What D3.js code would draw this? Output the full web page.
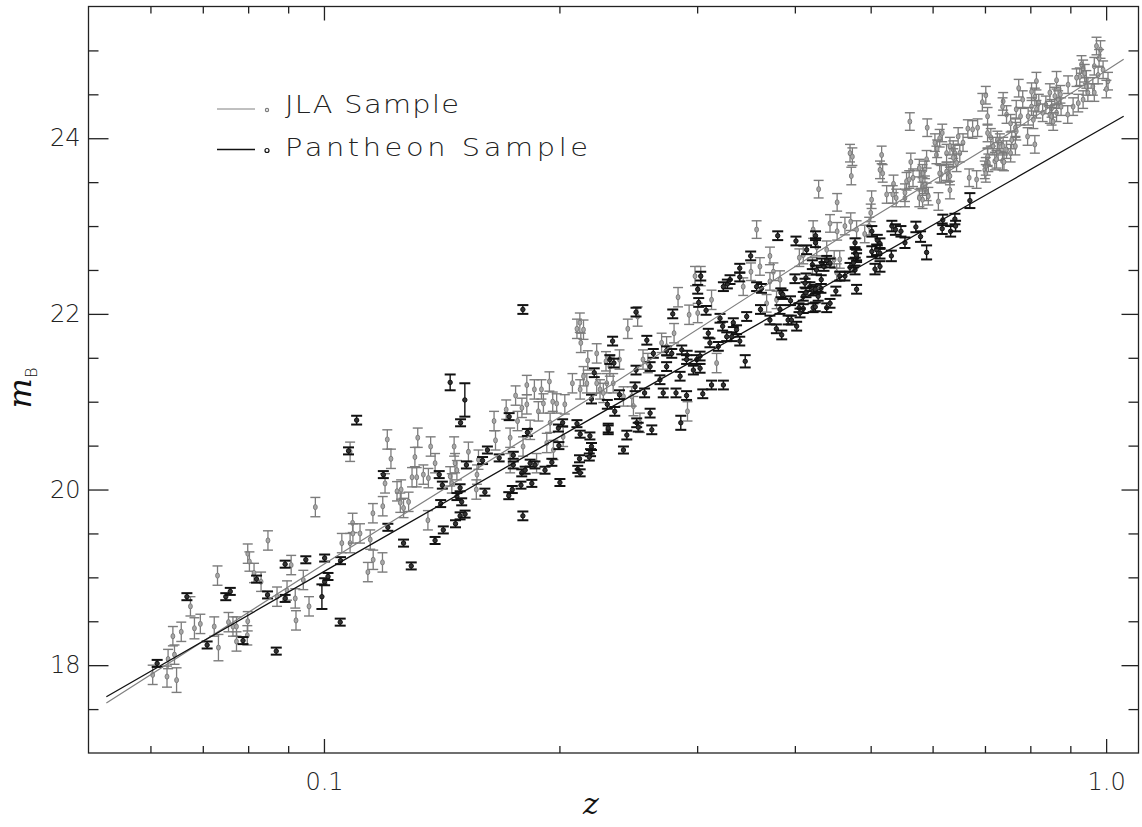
<!DOCTYPE html>
<html><head><meta charset="utf-8">
<script src="https://cdn.jsdelivr.net/npm/d3@7/dist/d3.min.js"></script>
<style>
html,body{margin:0;padding:0;background:#fff;}
svg{display:block;}
.tick text{font-family:"DejaVu Sans",sans-serif;font-weight:200;font-size:24px;fill:#222;}
</style></head>
<body><svg id="c" width="1142" height="827"></svg>
<script>
// ---- data: [z, m_B, error] ----
const jlaPoints = [
[0.0604,17.89,0.11],[0.0630,17.87,0.12],[0.0632,18.07,0.11],[0.0644,18.12,0.11],[0.0648,17.83,0.14],
[0.0641,18.33,0.11],[0.0657,18.38,0.11],[0.0675,18.67,0.11],[0.0683,18.42,0.12],[0.0695,18.47,0.11],
[0.0724,18.44,0.11],[0.0733,18.20,0.15],[0.0731,19.02,0.11],[0.0755,18.49,0.11],[0.0765,18.44,0.11],
[0.0773,18.44,0.11],[0.0773,18.27,0.11],[0.0799,19.27,0.11],[0.0803,19.18,0.11],[0.0799,18.50,0.11],
[0.0798,18.34,0.11],[0.0814,19.05,0.11],[0.0831,18.95,0.11],[0.0848,19.42,0.11],[0.0871,18.78,0.11],
[0.0897,18.85,0.11],[0.0908,19.14,0.11],[0.0919,18.76,0.11],[0.0921,18.51,0.11],[0.0941,18.97,0.11],
[0.0957,18.67,0.11],[0.0975,19.80,0.11],[0.1054,19.39,0.11],[0.1080,19.39,0.11],[0.1088,19.62,0.11],
[0.1089,19.50,0.11],[0.1112,19.50,0.11],[0.1080,20.43,0.11],[0.1155,19.73,0.11],[0.1146,19.43,0.11],
[0.1189,19.81,0.11],[0.1197,20.07,0.11],[0.1205,20.57,0.11],[0.1218,20.35,0.11],[0.1240,19.98,0.11],
[0.1255,20.00,0.11],[0.1252,19.85,0.11],[0.1264,19.79,0.11],[0.1283,19.86,0.11],[0.1296,20.14,0.11],
[0.1314,20.14,0.11],[0.1307,20.37,0.11],[0.1318,20.59,0.11],[0.1340,20.17,0.11],[0.1360,20.13,0.11],
[0.1369,20.49,0.11],[0.1387,20.30,0.11],[0.1358,19.65,0.11],[0.1467,20.49,0.11],[0.1471,20.30,0.11],
[0.1479,20.22,0.11],[0.1450,20.15,0.11],[0.1457,20.07,0.11],[0.1530,20.43,0.11],[0.1569,20.17,0.11],
[0.1566,20.00,0.11],[0.1576,20.34,0.11],[0.1650,20.78,0.11],[0.1657,20.56,0.11],[0.1710,20.91,0.11],
[0.1730,20.59,0.11],[0.1758,21.07,0.11],[0.1768,20.78,0.11],[0.1791,20.93,0.11],[0.1817,20.97,0.11],
[0.1817,21.19,0.11],[0.1797,20.49,0.11],[0.1835,20.68,0.11],[0.1858,21.14,0.11],[0.1897,21.14,0.11],
[0.1880,20.89,0.11],[0.1908,20.98,0.11],[0.1942,21.23,0.11],[0.1961,21.00,0.11],[0.1984,20.98,0.11],
[0.1946,20.76,0.11],[0.2032,20.97,0.11],[0.2078,21.21,0.11],[0.2106,21.83,0.11],[0.2124,21.90,0.11],
[0.2147,21.82,0.11],[0.2130,21.67,0.11],[0.2174,21.47,0.11],[0.2232,21.55,0.11],[0.2147,21.29,0.11],
[0.2168,21.21,0.11],[0.2126,21.14,0.11],[0.2232,21.21,0.11],[0.2254,21.14,0.11],[0.2294,21.46,0.11],
[0.2299,21.21,0.11],[0.2022,20.60,0.11],[0.1927,20.53,0.11],[0.1965,20.45,0.11],[0.1870,20.30,0.11],
[0.1730,20.30,0.11],[0.1156,19.20,0.11],[0.1188,19.17,0.11],[0.1138,19.06,0.11],
[0.4705,23.83,0.10],[0.4738,23.79,0.10],[0.4723,23.57,0.10],[0.4290,23.42,0.10],[0.4530,23.27,0.10],
[0.4436,23.03,0.10],[0.4635,23.00,0.10],[0.4715,23.05,0.10],[0.4530,22.94,0.10],[0.4221,22.96,0.10],
[0.3574,22.96,0.10],[0.4053,22.64,0.10],[0.4100,22.67,0.10],[0.4266,22.76,0.10],[0.4213,22.54,0.10],
[0.3717,22.66,0.10],[0.3609,22.54,0.10],[0.3755,22.48,0.10],[0.3515,22.48,0.10],[0.3717,22.37,0.10],
[0.3829,22.39,0.10],[0.2981,22.43,0.11],[0.3032,22.43,0.11],[0.2836,22.19,0.11],[0.3130,22.16,0.11],
[0.2930,21.99,0.11],[0.3005,22.01,0.11],[0.2518,21.97,0.11],[0.2446,21.83,0.11],[0.2803,21.78,0.11],
[0.2702,21.67,0.11],[0.2742,21.63,0.11],[0.2387,21.48,0.11],[0.2558,21.48,0.11],[0.2595,21.44,0.11],
[0.2343,21.21,0.11],[0.2276,21.10,0.11],[0.3177,21.44,0.11],[0.2916,20.89,0.11],[0.2487,20.95,0.11],
[0.3681,22.12,0.10],[0.3790,22.16,0.10],[0.3436,22.31,0.10],[0.4491,22.62,0.10],[0.4565,22.62,0.10],
[0.4797,22.96,0.10],[0.4524,22.47,0.10],[0.2320,21.40,0.11],[0.2415,21.06,0.11],[0.2535,20.76,0.11],
[0.2475,21.06,0.11],
[0.5164,23.81,0.10],[0.5139,23.64,0.10],[0.5180,23.60,0.10],[0.5627,23.73,0.10],[0.5895,23.76,0.10],
[0.6068,23.81,0.10],[0.6252,23.83,0.10],[0.6407,23.83,0.10],[0.5866,23.64,0.10],[0.5557,23.51,0.10],
[0.5664,23.55,0.10],[0.5348,23.48,0.10],[0.5825,23.45,0.10],[0.5895,23.39,0.10],[0.5925,23.34,0.10],
[0.5825,23.30,0.10],[0.6155,23.59,0.10],[0.6283,23.60,0.10],[0.6314,23.41,0.10],[0.6103,23.28,0.10],
[0.5770,23.32,0.10],[0.5531,23.32,0.10],[0.5336,23.36,0.10],[0.5390,23.32,0.10],[0.5241,23.36,0.10],
[0.5014,23.30,0.10],[0.5001,23.15,0.10],[0.4978,23.00,0.10],[0.4913,22.91,0.10],[0.4393,22.73,0.10],
[0.6682,23.55,0.10],[0.6830,23.53,0.10],[0.6996,23.64,0.10],[0.7070,23.72,0.10],[0.7054,23.78,0.10],
[0.7206,23.74,0.10],[0.7372,23.74,0.10],
[0.9721,25.05,0.10],[0.9836,25.01,0.10],[0.9795,24.91,0.10],[0.9658,24.82,0.10],[0.9911,24.78,0.10],
[0.9767,24.72,0.10],[1.0056,24.65,0.10],[1.0008,24.56,0.10],[0.9301,24.84,0.10],[0.9345,24.79,0.10],
[0.9389,24.74,0.10],[0.9254,24.70,0.10],[0.9166,24.69,0.10],[0.9434,24.67,0.10],[0.9616,24.59,0.10],
[0.9658,24.52,0.10],[0.9434,24.59,0.10],[0.9477,24.52,0.10],[0.9345,24.44,0.10],[0.9213,24.40,0.10],
[0.9074,24.36,0.10],[0.8941,24.61,0.10],[0.8642,24.66,0.10],[0.8145,24.65,0.10],[0.7731,24.57,0.10],
[0.8029,24.53,0.10],[0.8107,24.47,0.10],[0.7823,24.44,0.10],[0.8474,24.52,0.10],[0.8599,24.48,0.10],
[0.8682,24.44,0.10],[0.8742,24.50,0.10],[0.8202,24.40,0.10],[0.8374,24.38,0.10],[0.8517,24.34,0.10],
[0.8029,24.36,0.10],[0.8145,24.33,0.10],[0.8296,24.29,0.10],[0.8474,24.27,0.10],[0.8642,24.29,0.10],
[0.8758,24.36,0.10],[0.8931,24.27,0.10],[0.7949,24.25,0.10],[0.8072,24.21,0.10],[0.7675,24.33,0.10],
[0.7773,24.25,0.10],[0.7459,24.27,0.10],[0.7549,24.17,0.10],[0.7656,24.12,0.10],[0.7675,24.08,0.10],
[0.8107,23.93,0.10],[0.7936,24.02,0.10],[0.8517,24.25,0.10],[0.8557,24.19,0.10],[0.7017,24.49,0.10],
[0.6946,24.41,0.10],[0.7054,24.25,0.10],[0.7385,24.42,0.10],[0.7372,24.36,0.10],[0.5611,24.19,0.10],
[0.5906,24.12,0.10],[0.6656,24.11,0.10],[0.6750,24.10,0.10],[0.6850,24.12,0.10],[0.7054,24.06,0.10],
[0.7122,24.01,0.10],[0.7260,23.98,0.10],[0.7314,23.95,0.10],[0.7385,23.91,0.10],[0.7459,23.87,0.10],
[0.7549,23.83,0.10],[0.7168,23.91,0.10],[0.7276,23.85,0.10],[0.7574,23.98,0.10],[0.7656,23.91,0.10],
[0.7054,23.79,0.10],[0.7242,23.76,0.10],[0.7403,23.73,0.10],[0.7017,23.68,0.10],[0.7017,23.60,0.10],
[0.6562,23.95,0.10],[0.6469,24.02,0.10],[0.6314,23.91,0.10],[0.6376,23.87,0.10],[0.6173,24.06,0.10],
[0.6126,24.00,0.10],[0.6041,23.95,0.10],[0.6081,23.88,0.10],[0.6500,23.83,0.10],[0.6376,23.78,0.10],
[0.6439,23.72,0.10],[0.5770,23.66,0.10],[0.5825,23.60,0.10],[0.5800,23.53,0.10],[0.5866,23.47,0.10],
[0.5600,23.53,0.10],[0.5531,23.38,0.10],[0.6126,23.60,0.10],[0.6252,23.62,0.10],[0.6314,23.57,0.10]
];
const pantheonPoints = [
[0.0612,18.02,0.04],[0.0668,18.78,0.04],[0.0709,18.23,0.04],[0.0749,18.78,0.04],[0.0759,18.84,0.04],
[0.0788,18.28,0.04],[0.0820,18.98,0.04],[0.0847,18.80,0.04],[0.0869,18.16,0.04],[0.0892,19.15,0.04],
[0.0892,18.76,0.04],[0.0948,19.20,0.04],[0.1002,19.22,0.04],[0.0994,18.78,0.14],[0.1002,18.95,0.04],
[0.1012,19.01,0.04],[0.1049,18.49,0.04],[0.1050,19.19,0.04],[0.1075,20.44,0.04],[0.1101,20.79,0.05],
[0.1450,21.22,0.09],[0.1514,21.02,0.19],[0.1495,20.76,0.04],[0.1796,22.05,0.05],[0.1191,20.17,0.04],
[0.1207,19.57,0.04],[0.1264,19.39,0.04],[0.1387,19.42,0.04],[0.1421,19.54,0.04],[0.1404,20.17,0.04],
[0.1417,20.05,0.04],[0.1410,19.84,0.04],[0.1493,20.02,0.04],[0.1479,19.92,0.04],[0.1500,19.86,0.04],
[0.1493,19.70,0.04],[0.1515,19.72,0.04],[0.1473,19.61,0.04],[0.1521,20.28,0.04],[0.1595,20.33,0.04],
[0.1618,20.45,0.04],[0.1606,19.97,0.04],[0.1675,20.36,0.04],[0.1725,20.83,0.04],[0.1746,20.39,0.04],
[0.1723,19.93,0.04],[0.1741,20.00,0.04],[0.1796,19.70,0.05],[0.1746,20.28,0.04],[0.1790,20.19,0.04],
[0.1808,20.22,0.04],[0.1786,20.05,0.04],[0.1844,20.07,0.04],[0.1820,20.65,0.04],[0.1835,20.30,0.04],
[0.1861,20.28,0.04],[0.1917,20.22,0.04],[0.1956,20.31,0.04],[0.2003,20.08,0.04],[0.1997,20.50,0.04],
[0.1994,20.70,0.04],[0.2019,20.76,0.04],[0.2106,20.75,0.04],[0.2126,20.63,0.04],[0.2122,20.35,0.04],
[0.2111,20.23,0.04],[0.2126,20.19,0.04],[0.2188,20.61,0.04],[0.2198,20.49,0.04],[0.2192,20.42,0.04],
[0.2184,20.37,0.04],[0.2216,21.33,0.05],[0.2198,21.03,0.05],[0.2303,20.97,0.05],[0.2309,20.68,0.05],
[0.3803,22.89,0.05],[0.4013,22.83,0.05],[0.4251,22.89,0.05],[0.4251,22.81,0.05],[0.3512,22.66,0.05],
[0.3401,22.52,0.05],[0.3401,22.42,0.05],[0.3305,22.39,0.05],[0.3279,22.34,0.05],[0.3241,22.31,0.05],
[0.3032,22.43,0.05],[0.3005,22.28,0.05],[0.3014,22.13,0.05],[0.3080,22.04,0.05],[0.2792,22.00,0.05],
[0.2506,22.02,0.05],[0.2339,21.69,0.05],[0.2587,21.70,0.05],[0.2637,21.55,0.05],[0.2742,21.58,0.05],
[0.2784,21.55,0.05],[0.2867,21.59,0.05],[0.2913,21.53,0.05],[0.2997,21.48,0.05],[0.2967,21.36,0.05],
[0.3026,21.38,0.05],[0.3100,21.78,0.05],[0.3115,21.67,0.05],[0.3209,21.95,0.05],[0.3234,21.86,0.05],
[0.3273,21.74,0.05],[0.3337,21.90,0.05],[0.3369,21.82,0.05],[0.3321,21.74,0.05],[0.3401,21.69,0.05],
[0.3471,21.97,0.05],[0.3574,22.31,0.05],[0.3626,22.29,0.05],[0.3615,22.05,0.05],[0.3717,21.93,0.05],
[0.3788,21.83,0.05],[0.3848,21.76,0.05],[0.3840,22.24,0.05],[0.3860,22.22,0.05],[0.3829,22.05,0.05],
[0.3921,21.93,0.05],[0.3949,22.15,0.05],[0.4049,22.07,0.05],[0.4021,21.86,0.05],[0.4133,22.41,0.05],
[0.4181,22.31,0.05],[0.4001,22.40,0.05],[0.4221,22.26,0.05],[0.4284,22.20,0.05],[0.4319,22.29,0.05],
[0.4328,22.58,0.05],[0.4358,22.54,0.05],[0.4393,22.61,0.05],[0.4436,22.58,0.05],[0.4513,22.26,0.05],
[0.4393,22.07,0.05],[0.4436,22.12,0.05],[0.4221,22.07,0.05],[0.4100,22.20,0.05],[0.4565,22.43,0.05],
[0.4635,22.43,0.05],[0.4778,22.69,0.05],[0.4797,22.64,0.05],[0.4775,22.50,0.05],[0.4705,22.53,0.05],
[0.4751,22.58,0.05],[0.4797,22.28,0.05],[0.3456,21.46,0.07],[0.3130,21.19,0.05],[0.3241,21.19,0.05],
[0.3050,21.09,0.05],[0.2908,21.07,0.05],[0.2859,20.76,0.08],[0.2612,20.87,0.05],[0.2625,20.68,0.05],
[0.2415,20.45,0.04],[0.2309,20.70,0.05],[0.2439,20.62,0.05],[0.2511,20.76,0.05],[0.2522,20.71,0.05],
[0.2354,20.89,0.05],[0.2387,21.08,0.05],[0.2499,21.17,0.05],[0.2570,21.10,0.05],[0.2689,21.25,0.05],
[0.2715,21.10,0.05],[0.2819,21.10,0.05],[0.2742,21.40,0.05],[0.2853,21.29,0.05],[0.2908,21.48,0.05],
[0.3026,21.52,0.05],[0.3193,21.63,0.05],[0.2506,21.36,0.05],[0.2612,21.40,0.05],[0.2320,21.48,0.05],
[0.2348,21.44,0.05],[0.4141,22.73,0.05],[0.4211,22.56,0.05],[0.4263,22.50,0.05],[0.4323,22.39,0.05],
[0.4121,22.35,0.05],[0.4248,22.28,0.05],[0.4133,22.24,0.05],[0.4248,22.08,0.05],[0.4100,22.06,0.05],
[0.4061,22.01,0.05],[0.3959,21.93,0.05],[0.4775,22.81,0.05],
[0.6696,23.29,0.085],[0.6183,23.07,0.06],[0.6407,23.08,0.06],[0.6172,22.97,0.06],[0.6327,22.94,0.06],
[0.6420,23.00,0.06],[0.5712,22.99,0.06],[0.5791,22.88,0.06],[0.5895,22.70,0.08],[0.5531,22.81,0.06],
[0.5314,22.66,0.06],[0.5322,23.00,0.06],[0.5378,22.96,0.06],[0.5466,22.94,0.06],[0.5017,22.94,0.06],
[0.5098,22.84,0.06],[0.5139,22.80,0.06],[0.5089,22.73,0.06],[0.5139,22.69,0.06],[0.5017,22.71,0.06],
[0.5139,22.54,0.06],[0.5064,22.51,0.06],[0.4797,22.67,0.06],[0.1293,19.13,0.04]
];
// fitted curves
const jlaFit = [[0.0527,17.57],[0.1058,19.29],[0.2254,21.11],[0.4705,22.94],[0.7033,23.89],[1.053,24.90]];
const pantheonFit = [[0.0527,17.64],[0.1096,19.27],[0.2321,20.93],[0.4845,22.54],[0.7535,23.51],[1.053,24.25]];
// ticks and labels
const xMajor = [0.1, 1.0];
const xMinor = [0.06,0.07,0.08,0.09,0.2,0.3,0.4,0.5,0.6,0.7,0.8,0.9];
const yMajor = [18, 20, 22, 24];
const yMinor = [17.5,18.5,19,19.5,20.5,21,21.5,22.5,23,23.5,24.5,25];
const legendLabels = ["JLA Sample", "Pantheon Sample"];

const svg = d3.select("#c");
const L = 88.5, R = 1138.5, T = 6.5, B = 753;
const x = d3.scaleLog().domain([0.05, 1.1]).range([L, R]);
const y = d3.scaleLinear().domain([17, 25.5]).range([B, T]);

const GRAY = "#7c7c7c", BLACK = "#111";

// error bars + markers
function drawSeries(data, color, capW, sw, capSw, cls) {
  const g = svg.append("g").attr("class", cls);
  const s = g.selectAll("g").data(data).join("g");
  s.append("line").attr("x1", d => x(d[0])).attr("x2", d => x(d[0]))
    .attr("y1", d => y(d[1] - d[2])).attr("y2", d => y(d[1] + d[2]))
    .attr("stroke", color).attr("stroke-width", sw);
  [-1, 1].forEach(k => {
    s.append("line").attr("x1", d => x(d[0]) - capW / 2).attr("x2", d => x(d[0]) + capW / 2)
      .attr("y1", d => y(d[1] + k * d[2])).attr("y2", d => y(d[1] + k * d[2]))
      .attr("stroke", color).attr("stroke-width", capSw);
  });
  return s;
}
const sj = drawSeries(jlaPoints, GRAY, 10, 1.3, 1.4, "jla");
sj.append("ellipse").attr("cx", d => x(d[0])).attr("cy", d => y(d[1]))
  .attr("rx", 1.9).attr("ry", 2.6).attr("fill", "#a9a9a9").attr("stroke", GRAY).attr("stroke-width", 1);
const sp = drawSeries(pantheonPoints, BLACK, 11, 1.4, 2, "pan");
sp.append("circle").attr("cx", d => x(d[0])).attr("cy", d => y(d[1]))
  .attr("r", 2.2).attr("fill", "#333").attr("stroke", BLACK).attr("stroke-width", 1);

// fit lines
const line = d3.line().x(d => x(d[0])).y(d => y(d[1]));
svg.append("path").datum(jlaFit).attr("d", line).attr("fill", "none").attr("stroke", "#808080").attr("stroke-width", 1.2);
svg.append("path").datum(pantheonFit).attr("d", line).attr("fill", "none").attr("stroke", BLACK).attr("stroke-width", 1.3);

// axes (ticks on all four sides, pointing inward)
const axisColor = "#222";
function styleAxis(g) { g.select(".domain").remove(); g.selectAll(".tick line").attr("stroke", axisColor).attr("stroke-width", 1.3); }
svg.append("g").attr("transform", `translate(0,${B})`)
  .call(d3.axisBottom(x).tickValues(xMajor).tickSizeInner(-14).tickSizeOuter(0).tickPadding(20).tickFormat(d3.format(".1f"))).call(styleAxis);
svg.append("g").attr("transform", `translate(0,${B})`)
  .call(d3.axisBottom(x).tickValues(xMinor).tickSizeInner(-7).tickSizeOuter(0).tickFormat("")).call(styleAxis);
svg.append("g").attr("transform", `translate(0,${T})`)
  .call(d3.axisTop(x).tickValues(xMajor).tickSizeInner(-14).tickSizeOuter(0).tickFormat("")).call(styleAxis);
svg.append("g").attr("transform", `translate(0,${T})`)
  .call(d3.axisTop(x).tickValues(xMinor).tickSizeInner(-7).tickSizeOuter(0).tickFormat("")).call(styleAxis);
svg.append("g").attr("transform", `translate(${L},0)`)
  .call(d3.axisLeft(y).tickValues(yMajor).tickSizeInner(-20).tickSizeOuter(0).tickPadding(8).tickFormat(d3.format("d"))).call(styleAxis);
svg.append("g").attr("transform", `translate(${L},0)`)
  .call(d3.axisLeft(y).tickValues(yMinor).tickSizeInner(-10).tickSizeOuter(0).tickFormat("")).call(styleAxis);
svg.append("g").attr("transform", `translate(${R},0)`)
  .call(d3.axisRight(y).tickValues(yMajor).tickSizeInner(-17).tickSizeOuter(0).tickFormat("")).call(styleAxis);
svg.append("g").attr("transform", `translate(${R},0)`)
  .call(d3.axisRight(y).tickValues(yMinor).tickSizeInner(-10).tickSizeOuter(0).tickFormat("")).call(styleAxis);
svg.append("rect").attr("x", L).attr("y", T).attr("width", R - L).attr("height", B - T)
  .attr("fill", "none").attr("stroke", axisColor).attr("stroke-width", 1.3);

// axis titles
svg.append("text").attr("x", 591).attr("y", 814).attr("text-anchor", "middle")
  .attr("font-family", "DejaVu Serif").attr("font-style", "italic").attr("font-size", 30).attr("fill", "#111").text("z");
const yt = svg.append("text").attr("transform", "translate(31,388) rotate(-90)").attr("text-anchor", "middle")
  .attr("fill", "#111");
yt.append("tspan").attr("font-family", "DejaVu Serif").attr("font-style", "italic").attr("font-size", 32).text("m");
yt.append("tspan").attr("font-family", "DejaVu Sans").attr("font-weight", 200).attr("font-size", 16).attr("dy", 6).text("B");

// legend
const legY = [109, 149.5];
const leg = svg.append("g");
leg.selectAll("line").data(legendLabels).join("line")
  .attr("x1", 217).attr("x2", 255).attr("y1", (d, i) => legY[i]).attr("y2", (d, i) => legY[i])
  .attr("stroke", (d, i) => i ? BLACK : "#808080").attr("stroke-width", (d, i) => i ? 1.5 : 1);
leg.selectAll("circle").data(legendLabels).join("circle")
  .attr("cx", 267).attr("cy", (d, i) => legY[i] + 1).attr("r", (d, i) => i ? 2 : 1.6)
  .attr("fill", "none").attr("stroke", (d, i) => i ? BLACK : GRAY).attr("stroke-width", 1.2);
const legLen = [174, 303];
const sx = 1.2;
leg.selectAll("text").data(legendLabels).join("text")
  .attr("transform", (d, i) => `translate(285,${legY[i] + (i ? 6.5 : 3.7)}) scale(${sx},1)`)
  .attr("font-family", "DejaVu Sans").attr("font-weight", 200).attr("font-size", 24).attr("fill", "#222")
  .attr("textLength", (d, i) => legLen[i] / sx).attr("lengthAdjust", "spacing").text(d => d);
</script></body></html>
